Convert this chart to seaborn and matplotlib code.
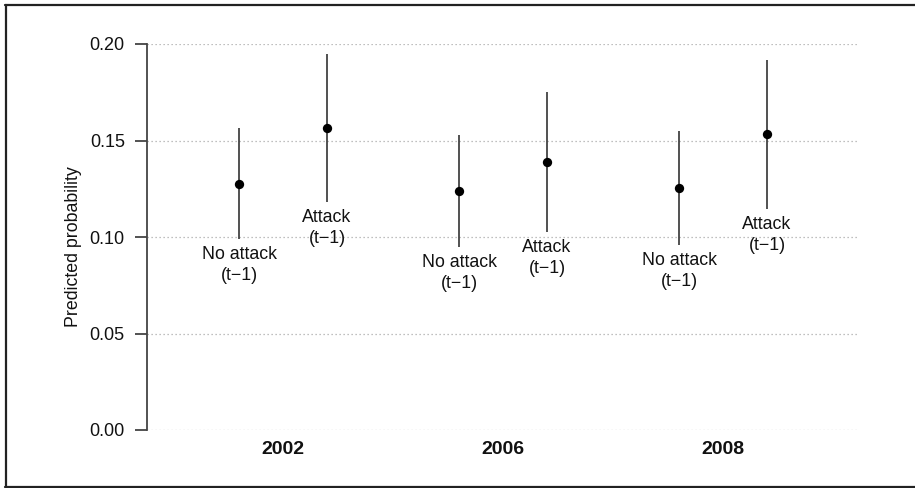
import matplotlib
matplotlib.use("Agg")
import matplotlib.pyplot as plt
import seaborn as sns
import pandas as pd
from matplotlib.lines import Line2D

years = ["2002", "2006", "2008"]
groups = ["No attack", "Attack"]
estimate = [0.1275, 0.1565, 0.1238, 0.1390, 0.1254, 0.1533]
ci_low = [0.0990, 0.1180, 0.0948, 0.1026, 0.0959, 0.1145]
ci_high = [0.1565, 0.1950, 0.1528, 0.1750, 0.1550, 0.1917]
yticks = [0.00, 0.05, 0.10, 0.15, 0.20]
ytick_labels = ["0.00", "0.05", "0.10", "0.15", "0.20"]

sns.set_style("white")
plt.rcParams["font.family"] = ["Liberation Sans", "DejaVu Sans"]

offset = {"No attack": -0.2, "Attack": 0.2}
rows = []
i = 0
for yi, yr in enumerate(years):
    for g in groups:
        rows.append({"year": yr, "group": g, "pos": yi + 1 + offset[g],
                     "est": estimate[i], "lo": ci_low[i], "hi": ci_high[i]})
        i += 1
df = pd.DataFrame(rows)

fig = plt.figure(figsize=(9.15, 4.88), dpi=100)
ax = fig.add_axes([147 / 915, 1 - 430 / 488, (858 - 147) / 915, (430 - 44) / 488])

text_color = "#111111"
line_color = "#444444"

ax.vlines(df["pos"], df["lo"], df["hi"], color="#333333", linewidth=1.2, zorder=2)
sns.scatterplot(data=df, x="pos", y="est", ax=ax, color="black", s=45,
                edgecolor="black", linewidth=0, zorder=3, legend=False)

for _, r in df.iterrows():
    ax.annotate(f"{r['group']}\n(t\u22121)", xy=(r["pos"], r["lo"]), xytext=(0, -5),
                textcoords="offset points", ha="center", va="top",
                fontsize=12.8, color=text_color, linespacing=1.3)

ax.set_xlim(1 - 136 / 220, 3 + 135 / 220)
ax.set_ylim(0, 0.2)
ax.set_yticks(yticks)
ax.set_yticklabels(ytick_labels, fontsize=13, color=text_color)
ax.set_xticks([1, 2, 3])
ax.set_xticklabels(years, fontsize=14, fontweight="bold", color=text_color)
ax.tick_params(axis="x", bottom=False, length=0, pad=8)
ax.tick_params(axis="y", left=True, length=8.5, width=1.3, color=line_color, pad=7.5,
               direction="out")
ax.set_xlabel("")
ax.set_ylabel("")

ax.yaxis.grid(True, linestyle=(0, (1, 2.2)), color="#aaaaaa", linewidth=0.9)
ax.set_axisbelow(True)
for s in ["top", "right", "bottom"]:
    ax.spines[s].set_visible(False)
ax.spines["left"].set_color(line_color)
ax.spines["left"].set_linewidth(1.3)

fig.text(73 / 915, 1 - 247 / 488, "Predicted probability", rotation=90,
         ha="center", va="center", fontsize=12.8, color=text_color)

# outer frame
fw, fh = 915, 488
frame_kw = dict(color="#222222", linewidth=1.6, transform=fig.transFigure)
fig.add_artist(Line2D([5 / fw, 1.01], [1 - 5 / fh, 1 - 5 / fh], **frame_kw))
fig.add_artist(Line2D([5.5 / fw, 5.5 / fw], [1 - 5 / fh, 1 - 486.5 / fh], **frame_kw))
fig.add_artist(Line2D([5 / fw, 1.01], [1 - 486.5 / fh, 1 - 486.5 / fh], **frame_kw))

fig.savefig("out.png", dpi=100, facecolor="white")
